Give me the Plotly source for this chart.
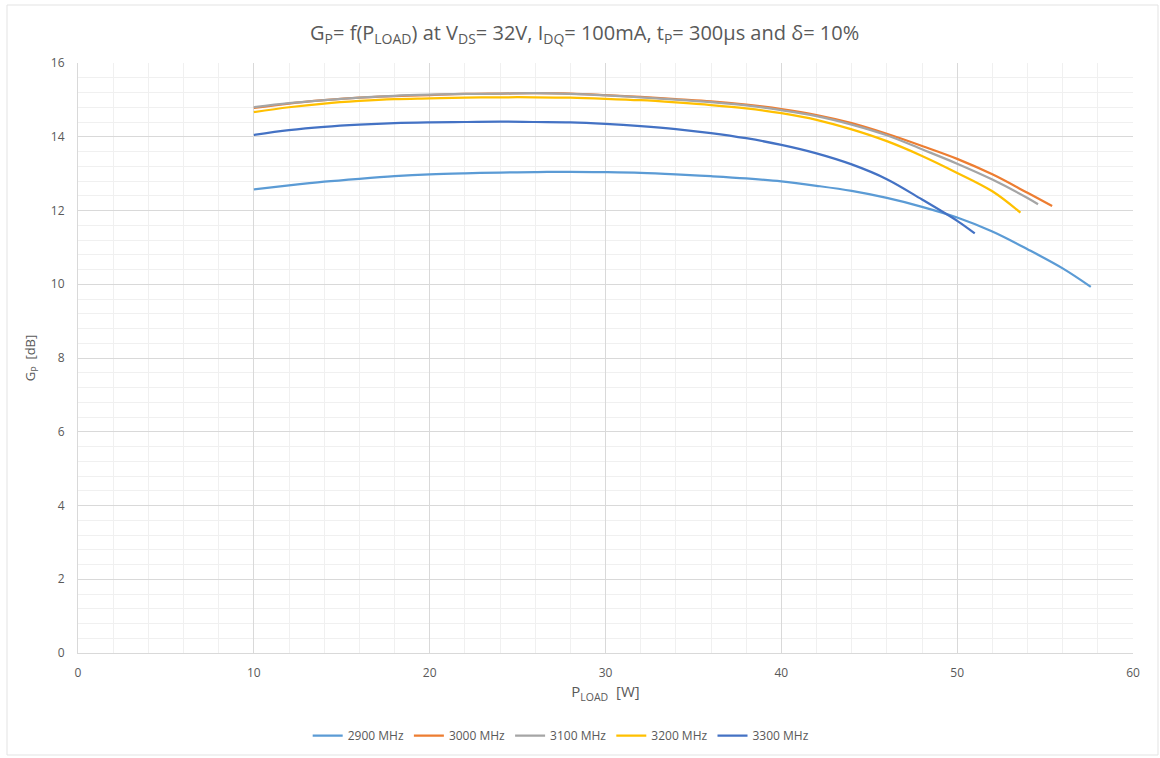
import plotly.graph_objects as go

names = ["2900 MHz", "3000 MHz", "3100 MHz", "3200 MHz", "3300 MHz"]
colors = ["#5B9BD5", "#ED7D31", "#A5A5A5", "#FFC000", "#4472C4"]

x_2900 = [10, 12, 14, 16, 18, 20, 22, 24, 26, 28, 30, 32, 34, 36, 38, 40, 42, 44, 46, 48, 50, 52, 54, 56, 57.6]
y_2900 = [12.57, 12.68, 12.78, 12.86, 12.93, 12.98, 13.01, 13.03, 13.04, 13.05, 13.04, 13.02, 12.98, 12.93, 12.87,
          12.79, 12.67, 12.53, 12.34, 12.10, 11.81, 11.43, 10.95, 10.43, 9.93]

x_3000 = [10, 12, 14, 16, 18, 20, 22, 24, 26, 28, 30, 32, 34, 36, 38, 40, 42, 44, 46, 48, 50, 52, 54, 55.4]
y_3000 = [14.78, 14.90, 14.99, 15.06, 15.10, 15.13, 15.16, 15.17, 15.18, 15.17, 15.13, 15.08, 15.02, 14.96, 14.87,
          14.75, 14.59, 14.37, 14.08, 13.75, 13.40, 12.98, 12.48, 12.12]

x_3100 = [10, 12, 14, 16, 18, 20, 22, 24, 26, 28, 30, 32, 34, 36, 38, 40, 42, 44, 46, 48, 50, 52, 54, 54.6]
y_3100 = [14.80, 14.91, 14.99, 15.06, 15.11, 15.14, 15.16, 15.17, 15.18, 15.16, 15.12, 15.07, 15.01, 14.94, 14.85,
          14.72, 14.56, 14.33, 14.04, 13.66, 13.27, 12.84, 12.34, 12.17]

x_3200 = [10, 12, 14, 16, 18, 20, 22, 24, 26, 28, 30, 32, 34, 36, 38, 40, 42, 44, 46, 48, 50, 52, 53.6]
y_3200 = [14.67, 14.80, 14.90, 14.97, 15.02, 15.04, 15.06, 15.07, 15.07, 15.06, 15.03, 14.99, 14.93, 14.86, 14.77,
          14.64, 14.46, 14.20, 13.88, 13.48, 13.02, 12.52, 11.94]

x_3300 = [10, 12, 14, 16, 18, 20, 22, 24, 26, 28, 30, 32, 34, 36, 38, 40, 42, 44, 46, 48, 50, 51]
y_3300 = [14.05, 14.18, 14.27, 14.33, 14.37, 14.39, 14.40, 14.41, 14.40, 14.39, 14.35, 14.29, 14.21, 14.10, 13.96,
          13.78, 13.55, 13.25, 12.85, 12.30, 11.72, 11.38]

xs = [x_2900, x_3000, x_3100, x_3200, x_3300]
ys = [y_2900, y_3000, y_3100, y_3200, y_3300]

font_family = "Open Sans, Liberation Sans, Arial, sans-serif"
grey_text = "#595959"

fig = go.Figure()
for n, c, x, y in zip(names, colors, xs, ys):
    fig.add_trace(go.Scatter(x=x, y=y, mode="lines", name=n,
                             line=dict(color=c, width=2.25, shape="spline", smoothing=1.0)))

# plot area: x 78..1133, y 63..653 (1055 x 590 px); outer chart frame ~ (7,5)-(1158,755)
fig.add_shape(type="rect", xref="paper", yref="paper",
              x0=-0.0673, x1=1.0237, y0=-0.1729, y1=1.0983,
              line=dict(color="#E3E3E3", width=1), fillcolor="rgba(0,0,0,0)", layer="below")

fig.update_layout(
    width=1160, height=758,
    paper_bgcolor="white", plot_bgcolor="white",
    margin=dict(l=78, r=27, t=63, b=105, autoexpand=False),
    font=dict(family=font_family, color=grey_text, size=12),
    title=dict(
        text="G<sub>P</sub>= f(P<sub>LOAD</sub>) at V<sub>DS</sub>= 32V, I<sub>DQ</sub>= 100mA, "
             "t<sub>P</sub>= 300µs and δ= 10%",
        x=0.504, xanchor="center", y=0.957, yanchor="middle",
        font=dict(size=20, color=grey_text, family=font_family)),
    legend=dict(orientation="h", x=0.458, xanchor="center", y=-0.14, yanchor="middle",
                font=dict(size=12, color=grey_text), itemwidth=30, tracegroupgap=0),
    showlegend=True,
)

fig.update_xaxes(
    range=[0, 60], dtick=10, tick0=0, automargin=False,
    showgrid=True, gridcolor="#D9D9D9", gridwidth=1,
    minor=dict(dtick=2, showgrid=True, gridcolor="#F0F0F0", gridwidth=1),
    showline=True, linecolor="#D9D9D9", linewidth=1,
    zeroline=False, ticks="", tickfont=dict(size=12, color=grey_text),
    ticklabelstandoff=9,
    title=dict(text="P<sub>LOAD</sub>  [W]", font=dict(size=15, color=grey_text), standoff=6),
)
fig.update_yaxes(
    range=[0, 16], dtick=2, tick0=0, automargin=False,
    showgrid=True, gridcolor="#D9D9D9", gridwidth=1,
    minor=dict(dtick=0.4, showgrid=True, gridcolor="#F0F0F0", gridwidth=1),
    showline=True, linecolor="#D9D9D9", linewidth=1,
    zeroline=False, ticks="", tickfont=dict(size=12, color=grey_text),
    ticklabelstandoff=10,
    title=dict(text="G<sub>P</sub>  [dB]", font=dict(size=13, color=grey_text), standoff=12),
)

fig.write_html("out.html", config={"displayModeBar": False},
               post_script="document.body.style.margin='0';")
